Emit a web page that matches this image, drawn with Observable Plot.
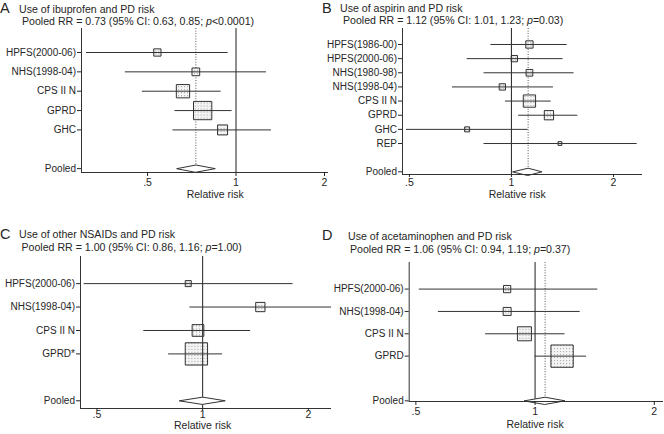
<!DOCTYPE html>
<html><head><meta charset="utf-8">
<script src="https://cdn.jsdelivr.net/npm/d3@7"></script>
<script src="https://cdn.jsdelivr.net/npm/@observablehq/plot@0.6"></script>
<style>
body{margin:0;background:#fff;}
#wrap{position:relative;width:664px;height:434px;overflow:hidden;font-family:"Liberation Sans",Arial,sans-serif;background:#fff;}
.panel{position:absolute;}
.panel svg{overflow:visible;}
#over{position:absolute;left:0;top:0;pointer-events:none;}
</style></head><body><div id="wrap"></div>
<script>
// ---------- DATA ----------
// A: ibuprofen
const ibuStudies = ["HPFS(2000-06)", "NHS(1998-04)", "CPS II N", "GPRD", "GHC"];
const ibuRR     = [0.54, 0.73, 0.66, 0.77, 0.90];
const ibuLo     = [0.31, 0.42, 0.48, 0.62, 0.61];
const ibuHi     = [0.94, 1.27, 0.89, 0.97, 1.32];
const ibuWeight = [7.3, 8.2, 24.4, 46.3, 13.8];
const ibuPooled = [0.73, 0.63, 0.85];
const ibuTitle = "Use of ibuprofen and PD risk";
const ibuSub = ["Pooled RR = 0.73 (95% CI: 0.63, 0.85; ", "p", "<0.0001)"];

// B: aspirin
const aspStudies = ["HPFS(1986-00)", "HPFS(2000-06)", "NHS(1980-98)", "NHS(1998-04)", "CPS II N", "GPRD", "GHC", "REP"];
const aspRR     = [1.13, 1.02, 1.13, 0.94, 1.13, 1.29, 0.74, 1.39];
const aspLo     = [0.87, 0.74, 0.83, 0.67, 0.96, 1.05, 0.49, 0.83];
const aspHi     = [1.46, 1.42, 1.53, 1.33, 1.31, 1.57, 1.12, 2.35];
const aspWeight = [11.7, 8.8, 9.9, 8.8, 33.3, 18.9, 5.5, 3.1];
const aspPooled = [1.12, 1.01, 1.23];
const aspTitle = "Use of aspirin and PD risk";
const aspSub = ["Pooled RR = 1.12 (95% CI: 1.01, 1.23; ", "p", "=0.03)"];

// C: other NSAIDs
const nsStudies = ["HPFS(2000-06)", "NHS(1998-04)", "CPS II N", "GPRD*"];
const nsRR     = [0.91, 1.46, 0.97, 0.96];
const nsLo     = [0.46, 0.92, 0.68, 0.80];
const nsHi     = [1.81, 2.40, 1.37, 1.14];
const nsWeight = [4.8, 11.4, 18.1, 65.7];
const nsPooled = [1.00, 0.86, 1.16];
const nsTitle = "Use of other NSAIDs and PD risk";
const nsSub = ["Pooled RR = 1.00 (95% CI: 0.86, 1.16; ", "p", "=1.00)"];

// D: acetaminophen
const acStudies = ["HPFS(2000-06)", "NHS(1998-04)", "CPS II N", "GPRD"];
const acRR     = [0.85, 0.85, 0.94, 1.17];
const acLo     = [0.51, 0.57, 0.75, 1.00];
const acHi     = [1.44, 1.30, 1.19, 1.35];
const acWeight = [6.5, 7.9, 24.2, 61.4];
const acPooled = [1.06, 0.94, 1.19];
const acTitle = "Use of acetaminophen and PD risk";
const acSub = ["Pooled RR = 1.06 (95% CI: 0.94, 1.19; ", "p", "=0.37)"];

// axis
const xTicks = [0.5, 1, 2];
const xTickLabels = [".5", "1", "2"];
const xLabel = "Relative risk";
const pooledLabel = "Pooled";

// ---------- DRAW ----------
const wrap = document.getElementById("wrap");
const INK = "#262626", LINE = "#333";

function fmtX(d) {
  const i = xTicks.findIndex(t => Math.abs(t - d) < 1e-6);
  return i < 0 ? "" : xTickLabels[i];
}

function panel(cfg) {
  const n = cfg.studies.length;
  const pooledIdx = n + 2;
  const rows = cfg.studies.map((s, i) => ({study: s, idx: i + 1, rr: cfg.rr[i], lo: cfg.lo[i], hi: cfg.hi[i], w: cfg.weight[i]}));
  const [pe, pl, ph] = cfg.pooled;
  const innerH = cfg.height - cfg.mt - cfg.mb;
  const pxPerRow = innerH / (cfg.yDomain[1] - cfg.yDomain[0]);
  const h = 3.6 / pxPerRow;
  const diamond = [{x: pl, y: pooledIdx}, {x: pe, y: pooledIdx - h}, {x: ph, y: pooledIdx}, {x: pe, y: pooledIdx + h}];
  const yTicks = [...rows.map(r => r.idx), pooledIdx];
  const yLab = new Map([...rows.map(r => [r.idx, r.study]), [pooledIdx, pooledLabel]]);
  const maxW = d3.max(cfg.weight);
  const pid = "dots" + cfg.key;

  const svg = Plot.plot({
    width: cfg.width, height: cfg.height,
    marginLeft: cfg.ml, marginRight: cfg.mr, marginTop: cfg.mt, marginBottom: cfg.mb,
    style: {fontFamily: '"Liberation Sans", Arial, sans-serif', color: INK, background: "transparent", overflow: "visible"},
    x: {type: "log", domain: cfg.xDomain},
    y: {domain: cfg.yDomain, reverse: true},
    r: {type: "sqrt", domain: [0, maxW], range: [0, cfg.maxSide / Math.sqrt(Math.PI)]},
    marks: [
      cfg.dotted ? Plot.ruleX([pe], {stroke: "#555", strokeWidth: 1, strokeDasharray: "1,1.6"}) : null,
      Plot.dot(rows, {x: "rr", y: "idx", r: "w", symbol: "square", fill: `url(#${pid})`, stroke: LINE, strokeWidth: 1}),
      Plot.ruleY(rows, {y: "idx", x1: "lo", x2: "hi", stroke: LINE, strokeWidth: 1, clip: true}),
      Plot.ruleX([1], {stroke: LINE, strokeWidth: 1.1}),
      Plot.line(diamond, {x: "x", y: "y", curve: "linear-closed", fill: "white", stroke: LINE, strokeWidth: 1}),
      Plot.ruleX([cfg.xDomain[0]], {stroke: LINE, strokeWidth: 1}),
      Plot.ruleY([cfg.yDomain[1]], {stroke: LINE, strokeWidth: 1}),
      Plot.axisY({ticks: yTicks, tickFormat: d => yLab.get(d) ?? "", tickSize: 4, tickPadding: 1.5, fontSize: 10, label: null}),
      Plot.axisX({ticks: xTicks, tickFormat: fmtX, tickSize: cfg.xTickSize, tickPadding: cfg.xTickPad, fontSize: 10.5, label: null}),
      Plot.text([xLabel], {text: d => d, x: () => cfg.labelX, frameAnchor: "bottom", dy: cfg.labelDy, fontSize: 10.5, fill: INK})
    ]
  });
  const defs = d3.select(svg).insert("defs", ":first-child");
  const pat = defs.append("pattern").attr("id", pid).attr("width", 3).attr("height", 3).attr("patternUnits", "userSpaceOnUse");
  pat.append("rect").attr("width", 3).attr("height", 3).attr("fill", "#f4f4f4");
  pat.append("rect").attr("x", 1).attr("y", 1).attr("width", 1).attr("height", 1).attr("fill", "#a0a0a0");

  const div = document.createElement("div");
  div.className = "panel";
  div.style.left = cfg.left + "px";
  div.style.top = cfg.top + "px";
  div.appendChild(svg);
  wrap.appendChild(div);
}

panel({key: "A", studies: ibuStudies, rr: ibuRR, lo: ibuLo, hi: ibuHi, weight: ibuWeight, pooled: ibuPooled,
  left: 0, top: 0, width: 332, height: 217, ml: 81, mr: 4, mt: 28, mb: 45,
  xDomain: [0.298, 2.064], yDomain: [-0.24, 7.2], maxSide: 18.3, dotted: true,
  xTickSize: 4, xTickPad: 2, labelDy: 25, labelX: 0.85});
panel({key: "B", studies: aspStudies, rr: aspRR, lo: aspLo, hi: aspHi, weight: aspWeight, pooled: aspPooled,
  left: 332, top: 0, width: 332, height: 217, ml: 70, mr: 22, mt: 28, mb: 43,
  xDomain: [0.477, 2.436], yDomain: [-0.13, 10.19], maxSide: 12.3, dotted: true,
  xTickSize: 3, xTickPad: 1, labelDy: 23, labelX: 1.04});
panel({key: "C", studies: nsStudies, rr: nsRR, lo: nsLo, hi: nsHi, weight: nsWeight, pooled: nsPooled,
  left: 0, top: 217, width: 332, height: 217, ml: 80, mr: 1, mt: 39, mb: 26,
  xDomain: [0.449, 2.328], yDomain: [-0.157, 6.33], maxSide: 22.3, dotted: false,
  xTickSize: 2, xTickPad: 0, labelDy: 20, labelX: 1});
panel({key: "D", studies: acStudies, rr: acRR, lo: acLo, hi: acHi, weight: acWeight, pooled: acPooled,
  left: 332, top: 217, width: 332, height: 217, ml: 76.7, mr: 1, mt: 45, mb: 33,
  xDomain: [0.481, 2.11], yDomain: [-0.19, 6.03], maxSide: 22.3, dotted: true,
  xTickSize: 4, xTickPad: 2, labelDy: 26, labelX: 1});

// titles overlay
const over = d3.select(wrap).append("svg").attr("id", "over").attr("width", 664).attr("height", 434)
  .style("font-family", '"Liberation Sans", Arial, sans-serif').style("fill", INK);
const heads = [
  {letter: "A", lx: 0, ly: 13, title: ibuTitle, tx: 19, ty: 12.5, sub: ibuSub, sx: 22, sy: 24.5},
  {letter: "B", lx: 322, ly: 13, title: aspTitle, tx: 340, ty: 12, sub: aspSub, sx: 343, sy: 24},
  {letter: "C", lx: 0, ly: 239, title: nsTitle, tx: 19, ty: 238, sub: nsSub, sx: 21.5, sy: 250.5},
  {letter: "D", lx: 322, ly: 240, title: acTitle, tx: 348, ty: 240, sub: acSub, sx: 350, sy: 252.5}
];
for (const hd of heads) {
  over.append("text").attr("x", hd.lx).attr("y", hd.ly).attr("font-size", 14.5).text(hd.letter);
  over.append("text").attr("x", hd.tx).attr("y", hd.ty).attr("font-size", 10.6).text(hd.title);
  const s = over.append("text").attr("x", hd.sx).attr("y", hd.sy).attr("font-size", 10.6);
  s.append("tspan").text(hd.sub[0]);
  s.append("tspan").attr("font-style", "italic").text(hd.sub[1]);
  s.append("tspan").text(hd.sub[2]);
}
</script></body></html>
